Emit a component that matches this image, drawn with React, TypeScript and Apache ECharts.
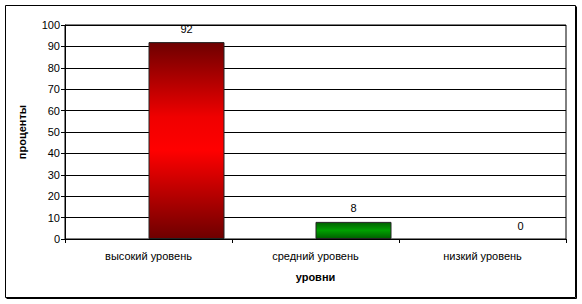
import React, { useEffect, useRef } from "react";
import * as echarts from "echarts";

// Share of pupils at each level, percent
const categories = ["высокий уровень", "средний уровень", "низкий уровень"];
const values = [92, 8, 0];
// An empty companion series holds the left slot of each cluster
const emptySlot = ["-", "-", "-"];
const yTicks = { min: 0, max: 100, interval: 10 };

const FONT = 'Arial, "Liberation Sans", sans-serif';

const redFill = new echarts.graphic.LinearGradient(0, 0, 0, 1, [
  { offset: 0, color: "#6e0000" },
  { offset: 0.38, color: "#f00000" },
  { offset: 0.55, color: "#ff0000" },
  { offset: 1, color: "#6e0000" },
]);
const greenFill = new echarts.graphic.LinearGradient(0, 0, 0, 1, [
  { offset: 0, color: "#006000" },
  { offset: 0.5, color: "#00a000" },
  { offset: 1, color: "#006000" },
]);
const fills = [redFill, greenFill, greenFill];

export default function App() {
  const ref = useRef<HTMLDivElement>(null);

  useEffect(() => {
    if (!ref.current) return;
    const chart = echarts.init(ref.current, null, { renderer: "svg" });
    chart.setOption({
      animation: false,
      backgroundColor: "#ffffff",
      textStyle: { fontFamily: FONT },
      graphic: [
        {
          type: "rect",
          shape: { x: 5.5, y: 5.5, width: 570, height: 292 },
          style: { fill: "none", stroke: "#000", lineWidth: 1 },
          z: 0,
        },
        {
          type: "polyline",
          shape: { points: [[6.5, 298.5], [576.5, 298.5], [576.5, 6.5]] },
          style: { fill: "none", stroke: "#000", lineWidth: 1 },
          z: 0,
        },
      ],
      grid: {
        left: 65,
        right: 16,
        top: 25,
        bottom: 65,
        show: true,
        borderColor: "#000",
        borderWidth: 1,
        backgroundColor: "transparent",
      },
      xAxis: {
        type: "category",
        data: categories,
        name: "уровни",
        nameLocation: "middle",
        nameGap: 32,
        nameTextStyle: { fontFamily: FONT, fontSize: 11, fontWeight: "bold", color: "#000" },
        axisLine: { show: true, lineStyle: { color: "#000", width: 1 } },
        axisTick: { show: true, length: 4, lineStyle: { color: "#000" } },
        axisLabel: { fontFamily: FONT, fontSize: 11, color: "#000", margin: 11 },
        splitLine: { show: false },
      },
      yAxis: {
        type: "value",
        min: yTicks.min,
        max: yTicks.max,
        interval: yTicks.interval,
        name: "проценты",
        nameLocation: "middle",
        nameRotate: 90,
        nameGap: 38,
        nameTextStyle: { fontFamily: FONT, fontSize: 11, fontWeight: "bold", color: "#000" },
        axisLine: { show: true, lineStyle: { color: "#000", width: 1 } },
        axisTick: { show: true, length: 4, lineStyle: { color: "#000" } },
        axisLabel: { fontFamily: FONT, fontSize: 11, color: "#000", margin: 5 },
        splitLine: { show: true, lineStyle: { color: "#000", width: 1 } },
      },
      series: [
        {
          type: "bar",
          name: "empty",
          barWidth: 76,
          barGap: 0,
          data: emptySlot,
          silent: true,
        },
        {
          type: "bar",
          name: "levels",
          barWidth: 76,
          barGap: 0,
          data: values.map((v, i) => ({
            value: v,
            itemStyle: {
              color: fills[i],
              borderColor: "#222",
              borderWidth: v > 0 ? 1 : 0,
            },
          })),
          label: {
            show: true,
            position: "top",
            distance: 8,
            fontFamily: FONT,
            fontSize: 11,
            color: "#000",
          },
        },
      ],
    });
    return () => chart.dispose();
  }, []);

  return (
    <div
      ref={ref}
      style={{ position: "fixed", left: 0, top: 0, width: 582, height: 304 }}
    />
  );
}
